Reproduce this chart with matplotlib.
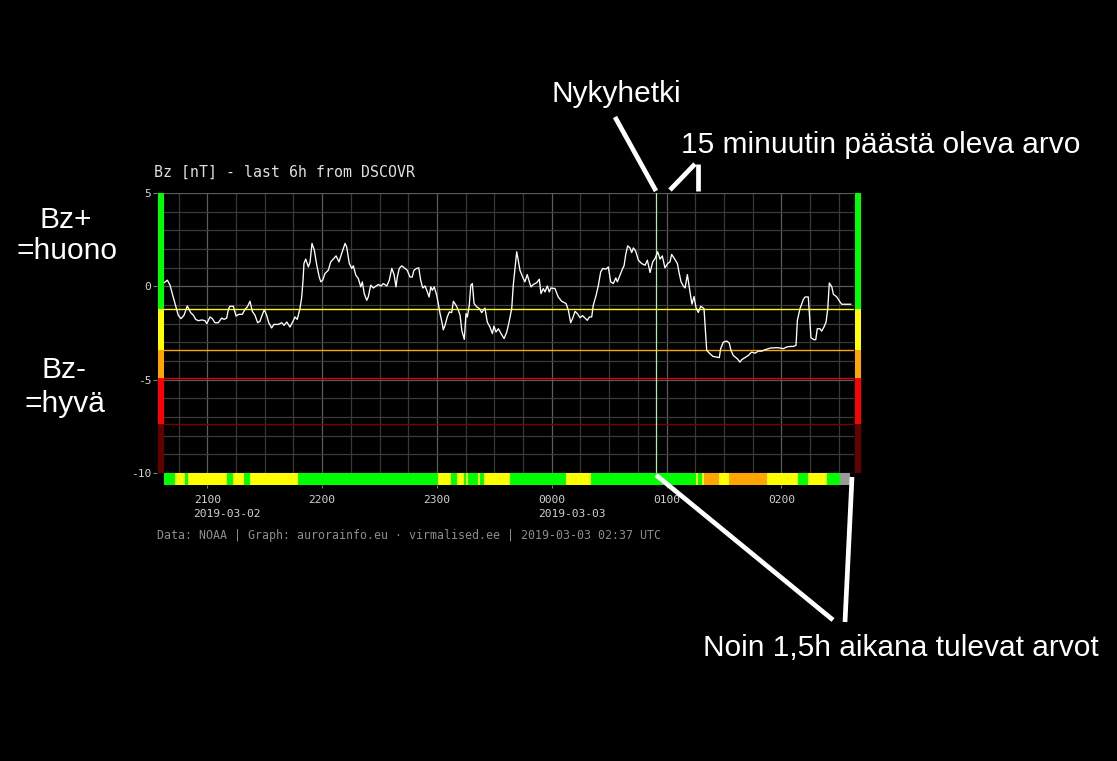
import matplotlib
matplotlib.use("Agg")
import matplotlib.pyplot as plt
from matplotlib.patches import Rectangle
from matplotlib.lines import Line2D
import matplotlib.transforms as mtransforms

# ---------------- data ----------------
# minutes relative to 2019-03-03 00:00 UTC
bz_minutes = [-202.5, -200.9, -199.5, -198.1, -196.4, -195.2, -193.8, -192.2, -190.5, -188.7,
              -187.3, -186.1, -184.7, -182.9, -181.2, -180.3, -178.6, -177.4, -176.0, -174.3,
              -172.5, -171.3, -169.9, -169.0, -168.2, -166.4, -165.0, -163.6, -161.7, -160.3,
              -159.1, -157.7, -156.5, -155.1, -153.7, -152.5, -151.4, -150.2, -149.0, -147.9,
              -146.4, -145.2, -142.9, -141.1, -139.9, -138.5, -136.8, -135.4, -134.2, -133.0,
              -131.6, -130.7, -130.0, -129.5, -128.6, -127.2, -126.3, -125.3, -124.1, -122.8,
              -121.5, -120.7, -119.7, -118.5, -116.8, -115.5, -114.2, -112.7, -111.2, -109.8,
              -108.0, -107.2, -105.8, -104.5, -103.7, -102.4, -101.1, -99.8, -99.0, -98.0,
              -96.7, -95.9, -94.6, -93.2, -91.8, -90.6, -89.2, -88.0, -86.2, -84.9,
              -83.6, -82.4, -81.4, -80.7, -79.7, -78.4, -76.7, -75.5, -74.1, -72.9,
              -72.0, -70.6, -69.5, -68.5, -67.4, -66.2, -65.0, -64.1, -63.2, -62.4,
              -61.4, -60.1, -59.3, -58.4, -57.2, -56.7, -55.8, -54.6, -53.5, -52.3,
              -51.4, -50.0, -48.8, -47.9, -47.0, -45.7, -44.8, -44.1, -43.1, -42.3,
              -41.5, -40.6, -39.2, -37.8, -36.6, -34.9, -33.7, -32.3, -31.0, -30.2,
              -29.1, -27.9, -26.5, -24.9, -23.5, -22.3, -20.9, -20.1, -19.2, -18.3,
              -17.5, -16.6, -15.2, -14.0, -12.8, -11.7, -10.8, -9.6, -7.8, -6.5,
              -5.6, -4.4, -3.5, -2.3, -1.3, -0.4, 1.7, 3.4, 5.2, 7.5,
              8.7, 9.9, 11.0, 12.2, 13.4, 14.8, 16.1, 17.4, 18.6, 19.7,
              20.9, 21.7, 23.2, 24.4, 25.6, 26.7, 28.4, 29.6, 30.8, 32.2,
              33.5, 34.3, 35.7, 37.1, 37.8, 38.7, 39.7, 40.9, 41.8, 42.7,
              43.9, 45.3, 47.0, 48.8, 50.0, 51.4, 52.8, 54.0, 55.4, 56.6,
              57.8, 59.2, 60.6, 61.8, 62.7, 64.1, 65.7, 66.5, 67.6, 68.8,
              69.7, 70.9, 72.3, 73.3, 74.4, 75.4, 76.6, 77.9, 79.6, 80.1,
              81.0, 82.4, 84.2, 86.2, 87.6, 88.3, 89.7, 91.5, 92.8, 93.7,
              94.9, 97.0, 98.4, 99.3, 101.0, 102.8, 104.5, 106.3, 108.0, 109.8,
              111.5, 114.1, 116.7, 118.4, 121.1, 122.8, 124.6, 126.3, 127.7, 128.4,
              129.8, 131.5, 132.4, 134.1, 134.6, 135.5, 137.1, 138.0, 138.8, 140.2,
              141.1, 142.3, 143.4, 144.3, 145.1, 146.4, 147.2, 149.0, 150.7, 151.6,
              154.2, 156.3]
bz_values = [0.2, 0.33, 0.06, -0.48, -1.1, -1.55, -1.73, -1.55, -1.05, -1.41,
             -1.55, -1.77, -1.84, -1.8, -1.84, -2.0, -1.64, -1.73, -1.95, -1.95,
             -1.7, -1.77, -1.7, -1.23, -1.07, -1.07, -1.59, -1.5, -1.5, -1.23,
             -1.1, -0.8, -1.34, -1.55, -1.95, -1.87, -1.55, -1.25, -1.55, -1.95,
             -2.23, -2.04, -2.04, -1.95, -2.09, -1.91, -2.18, -1.91, -1.64, -1.77,
             -1.19, -0.6, 0.3, 1.22, 1.46, 1.04, 1.31, 2.3, 1.94, 1.13,
             0.5, 0.24, 0.33, 0.69, 0.86, 1.31, 1.46, 1.63, 1.31, 1.76,
             2.3, 2.12, 1.22, 0.96, 1.1, 0.6, 0.42, -0.03, 0.24, -0.39,
             -0.75, -0.57, 0.06, -0.09, 0.02, 0.1, 0.02, 0.15, 0.02, 0.33,
             0.96, 0.63, -0.03, 0.5, 0.96, 1.1, 0.96, 0.86, 0.5, 0.5,
             0.86, 0.96, 0.99, 0.33, -0.09, 0.02, -0.3, -0.57, -0.03, -0.21,
             -0.03, -0.48, -0.92, -1.45, -2.0, -2.33, -2.1, -1.64, -1.37, -1.41,
             -0.8, -1.02, -1.28, -1.55, -2.36, -2.84, -1.46, -1.64, -1.02, 0.06,
             0.15, -0.92, -1.1, -1.19, -1.41, -1.16, -1.91, -2.18, -2.53, -2.13,
             -2.45, -2.27, -2.53, -2.8, -2.45, -1.91, -1.19, 0.06, 0.96, 1.85,
             1.4, 0.86, 0.5, 0.24, 0.63, 0.24, -0.03, 0.1, 0.2, 0.38,
             -0.39, -0.12, -0.3, 0.02, -0.3, -0.09, -0.12, -0.57, -0.8, -0.92,
             -1.28, -1.95, -1.7, -1.34, -1.46, -1.68, -1.57, -1.7, -1.82, -1.64,
             -1.64, -1.02, -0.48, 0.06, 0.77, 0.96, 0.92, 1.04, 0.24, 0.15,
             0.45, 0.24, 0.6, 0.96, 1.1, 1.71, 2.17, 2.06, 1.81, 2.06,
             1.88, 1.4, 1.22, 1.13, 1.4, 0.74, 1.31, 1.49, 1.85, 1.46,
             1.63, 0.99, 1.22, 1.31, 1.71, 1.49, 1.22, 0.77, 0.24, 0.02,
             -0.09, 0.63, -0.32, -0.95, -0.55, -1.14, -1.4, -1.07, -1.19, -2.0,
             -3.43, -3.58, -3.75, -3.79, -3.82, -3.34, -2.99, -2.93, -3.04, -3.43,
             -3.7, -3.88, -4.06, -3.93, -3.82, -3.7, -3.52, -3.58, -3.47, -3.47,
             -3.4, -3.31, -3.29, -3.29, -3.34, -3.25, -3.22, -3.22, -3.16, -1.82,
             -1.19, -0.71, -0.57, -0.57, -1.37, -2.75, -2.86, -2.86, -2.27, -2.27,
             -2.4, -2.18, -1.91, -1.19, 0.18, -0.03, -0.42, -0.57, -0.84, -0.96,
             -0.96, -0.96]

now_minute = 54.4
x_range = (-202.5, 158.0)
y_range = (-10, 5)

hour_ticks = [-180, -120, -60, 0, 60, 120]
hour_labels = ["2100", "2200", "2300", "0000", "0100", "0200"]
date_ticks = [-180, 0]
date_labels = ["2019-03-02", "2019-03-03"]
y_ticks = [5, 0, -5, -10]
y_labels = ["5", "0", "-5", "-10"]

level_bounds = [5, -1.2, -3.4, -4.9, -7.4, -10]
level_colors = ["#00ff00", "#ffff00", "#ffa500", "#ff0000", "#640000"]
threshold_values = [-1.2, -3.4, -4.9, -7.4]
threshold_colors = ["#ffff00", "#ffa500", "#e00000", "#7a0000"]

bar_edges = [-202.5, -197.0, -191.7, -190.1, -169.7, -166.6, -160.8, -157.7, -132.8,
             -59.6, -52.6, -49.5, -45.7, -44.8, -43.6, -38.7, -37.5, -35.4, -21.8,
             7.5, 20.5, 75.4, 76.5, 78.6, 79.7, 87.5, 92.8, 112.6, 128.6, 134.0,
             144.1, 150.7, 156.0]
bar_classes = ["G", "Y", "G", "Y", "G", "Y", "G", "Y",
               "G", "Y", "G", "Y", "G", "Y", "G", "Y", "G", "Y",
               "G", "Y", "G", "Y", "G", "Y", "O", "Y", "O", "Y",
               "G", "Y", "G", "N"]
class_colors = {"G": "#00ff00", "Y": "#ffff00", "O": "#ffa500",
                "R": "#ff0000", "D": "#640000", "N": "#9a9a9a"}

title = "Bz [nT] - last 6h from DSCOVR"
footer = "Data: NOAA | Graph: aurorainfo.eu \u00b7 virmalised.ee | 2019-03-03 02:37 UTC"

# ---------------- figure ----------------
W, H = 1117, 761
fig = plt.figure(figsize=(W / 100, H / 100), dpi=100, facecolor="black")
ax = fig.add_axes([164.3 / W, 1 - 473 / H, 689.7 / W, 280 / H])
ax.set_facecolor("black")
ax.set_xlim(*x_range)
ax.set_ylim(*y_range)

mono = "DejaVu Sans Mono"

for s in ax.spines.values():
    s.set_visible(False)
ax.spines["bottom"].set_position(("outward", 12 * 0.72))
ax.spines["left"].set_position(("outward", 7 * 0.72))

# ticks and grid
ax.set_xticks(hour_ticks)
ax.set_xticklabels(hour_labels)
ax.set_xticks([m for m in range(-195, 158, 15) if m not in hour_ticks], minor=True)
ax.set_yticks(y_ticks)
ax.set_yticklabels(y_labels)
ax.set_yticks([v for v in range(-9, 5) if v not in y_ticks], minor=True)
ax.tick_params(axis="both", which="major", labelcolor="#d0d0d0", labelsize=8.1,
               labelfontfamily=mono, color="#808080", width=0.8)
ax.tick_params(axis="x", which="major", length=2.5, pad=5)
ax.tick_params(axis="y", which="major", length=3, pad=1.2)
ax.tick_params(which="minor", length=0)
ax.grid(which="major", axis="x", color="#5c5c5c", lw=0.9)
ax.grid(which="minor", axis="x", color="#383838", lw=0.9)
ax.grid(which="major", axis="y", color="#5a5a5a", lw=0.9)
ax.grid(which="minor", axis="y", color="#3a3a3a", lw=0.9)
ax.set_axisbelow(True)

# threshold lines
for v, c in zip(threshold_values, threshold_colors):
    ax.axhline(v, color=c, lw=1.0, zorder=2)

# now line
ax.axvline(now_minute, color="#a8f0a8", lw=0.9, zorder=3)

# data
ax.plot(bz_minutes, bz_values, color="white", lw=0.95, zorder=4)

# side level bars
ytrans = ax.get_yaxis_transform()
for i, c in enumerate(level_colors):
    top, bot = level_bounds[i], level_bounds[i + 1]
    for x0, w in [(-6.3 / 689.7, 6.3 / 689.7), (690.7 / 689.7, 6.3 / 689.7)]:
        ax.add_patch(Rectangle((x0, bot), w, top - bot, transform=ytrans,
                               facecolor=c, edgecolor="none", clip_on=False, zorder=5))

# bottom class bar
bar_h = 12 / 18.62
for i, cl in enumerate(bar_classes):
    ax.add_patch(Rectangle((bar_edges[i], y_range[0] - bar_h), bar_edges[i + 1] - bar_edges[i],
                           bar_h, facecolor=class_colors[cl], edgecolor="none",
                           clip_on=False, zorder=5))

# date labels under hour labels
xt = ax.get_xaxis_transform()
for m, lab in zip(date_ticks, date_labels):
    tr = mtransforms.offset_copy(xt, fig=fig, x=-13.8, y=-41, units="dots")
    ax.text(m, 0, lab, transform=tr, ha="left", va="center", family=mono,
            fontsize=8.1, color="#d0d0d0")

fig.text(154 / W, 1 - 172.7 / H, title, family=mono, fontsize=10.7, color="#e0e0e0",
         ha="left", va="center")
fig.text(157.3 / W, 1 - 535 / H, footer, family=mono, fontsize=8.36, color="#8c8c8c",
         ha="left", va="center")

# ---------------- annotations ----------------
ann = dict(family="Liberation Sans", fontsize=21.5, color="white", ha="left", va="baseline")
fig.text(551 / W, 1 - 102 / H, "Nykyhetki", **ann)
fig.text(681 / W, 1 - 153 / H, "15 minuutin päästä oleva arvo", **ann)
fig.text(40 / W, 1 - 228 / H, "Bz+", **ann)
fig.text(17 / W, 1 - 259 / H, "=huono", **ann)
fig.text(41 / W, 1 - 378 / H, "Bz-", **ann)
fig.text(24 / W, 1 - 412 / H, "=hyvä", **ann)
fig.text(703 / W, 1 - 656 / H, "Noin 1,5h aikana tulevat arvot", **ann)

for (x1, y1), (x2, y2) in [((615, 117), (656, 191)),
                           ((670, 190), (695, 164)),
                           ((697.5, 164), (697.5, 191)),
                           ((656, 475), (833, 620)),
                           ((852, 477), (845, 622))]:
    fig.add_artist(Line2D([x1 / W, x2 / W], [1 - y1 / H, 1 - y2 / H], transform=fig.transFigure,
                          color="white", lw=3.4, solid_capstyle="butt", zorder=10))

fig.savefig("out.png", dpi=100, facecolor="black")
